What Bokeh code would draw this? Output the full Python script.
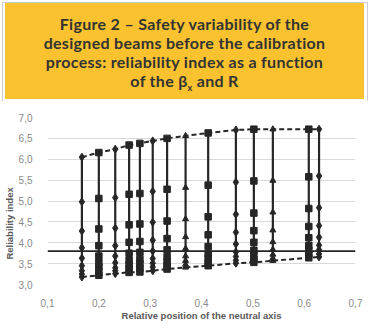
from bokeh.plotting import figure
from bokeh.models import ColumnDataSource, FixedTicker, Span, Div
from bokeh.layouts import column
from bokeh.embed import file_html
from bokeh.resources import INLINE

# Relative position of the neutral axis (beta_x) for each designed beam group
beta_x = [0.167, 0.200, 0.232, 0.259, 0.280, 0.305, 0.333, 0.369, 0.413, 0.467, 0.502, 0.539, 0.609, 0.629]

# Reliability index for each load ratio R (one array per R level, top to bottom)
beta_R1 = [6.05, 6.16, 6.24, 6.34, 6.38, 6.44, 6.50, 6.56, 6.63, 6.70, 6.72, 6.72, 6.72, 6.72]
beta_R2 = [4.98, 5.06, 5.08, 5.16, 5.18, 5.23, 5.28, 5.32, 5.38, 5.45, 5.48, 5.49, 5.58, 5.60]
beta_R3 = [4.28, 4.33, 4.35, 4.43, 4.45, 4.49, 4.52, 4.57, 4.62, 4.68, 4.71, 4.73, 4.82, 4.84]
beta_R4 = [3.88, 3.93, 3.93, 4.01, 4.03, 4.06, 4.10, 4.14, 4.19, 4.25, 4.29, 4.30, 4.39, 4.41]
beta_R5 = [3.63, 3.68, 3.68, 3.75, 3.77, 3.80, 3.83, 3.86, 3.91, 3.97, 4.01, 4.02, 4.12, 4.13]
beta_R6 = [3.45, 3.52, 3.52, 3.58, 3.60, 3.62, 3.66, 3.68, 3.73, 3.78, 3.82, 3.84, 3.93, 3.94]
beta_R7 = [3.33, 3.42, 3.40, 3.47, 3.49, 3.51, 3.54, 3.57, 3.62, 3.67, 3.70, 3.72, 3.82, 3.83]
beta_R8 = [3.25, 3.33, 3.33, 3.38, 3.39, 3.42, 3.45, 3.48, 3.52, 3.58, 3.60, 3.63, 3.72, 3.73]
beta_R9 = [3.18, 3.22, 3.26, 3.29, 3.30, 3.33, 3.37, 3.41, 3.45, 3.51, 3.53, 3.57, 3.64, 3.66]

# Marker shape used for each beam group
group_marker = ["diamond", "square", "diamond", "square", "square", "diamond", "square",
                "triangle", "square", "diamond", "square", "triangle", "square", "diamond"]

target_beta = 3.8
y_ticks = [3.0, 3.5, 4.0, 4.5, 5.0, 5.5, 6.0, 6.5, 7.0]
x_ticks = [0.1, 0.2, 0.3, 0.4, 0.5, 0.6, 0.7]

levels = [beta_R1, beta_R2, beta_R3, beta_R4, beta_R5, beta_R6, beta_R7, beta_R8, beta_R9]
size_of = {"square": 6.5, "diamond": 8, "triangle": 6}

xs, ys, mk, sz = [], [], [], []
for lev in levels:
    for i, b in enumerate(lev):
        xs.append(beta_x[i])
        ys.append(b)
        mk.append(group_marker[i])
        sz.append(size_of[group_marker[i]])
pts = ColumnDataSource(dict(x=xs, y=ys, marker=mk, size=sz))

ink = "#262626"

p = figure(frame_width=308, frame_height=167, x_range=(0.1, 0.7), y_range=(3.0, 7.0),
           output_backend="svg", toolbar_location=None,
           min_border_left=47, min_border_right=15, min_border_top=17, min_border_bottom=45,
           background_fill_color="white", border_fill_color="white")
p.outline_line_color = None
p.xgrid.grid_line_color = None
p.ygrid.grid_line_color = "#d9d9d9"
p.ygrid.grid_line_width = 1

for ax in (p.xaxis[0], p.yaxis[0]):
    ax.axis_line_color = None
    ax.major_tick_line_color = None
    ax.minor_tick_line_color = None
    ax.major_label_text_font = "Liberation Sans"
    ax.major_label_text_font_size = "10px"
    ax.major_label_text_color = "#8a8a8a"
    ax.axis_label_text_font = "Liberation Sans"
    ax.axis_label_text_font_size = "9.5px"
    ax.axis_label_text_font_style = "bold"
    ax.axis_label_text_color = "#595959"

p.xaxis.ticker = FixedTicker(ticks=x_ticks)
p.yaxis.ticker = FixedTicker(ticks=y_ticks)
p.xaxis.major_label_overrides = {t: f"{t:.1f}".replace(".", ",") for t in x_ticks}
p.yaxis.major_label_overrides = {t: f"{t:.1f}".replace(".", ",") for t in y_ticks}
p.xaxis.major_label_standoff = 8
p.yaxis.major_label_standoff = 9
p.xaxis.axis_label = "Relative position of the neutral axis"
# trailing no-break spaces push the rotated title down to the middle of the frame
p.yaxis.axis_label = "Reliability index" + "\u00a0" * 17
p.xaxis.axis_label_standoff = 0
p.yaxis.axis_label_standoff = 1

# Target reliability index
p.add_layout(Span(location=target_beta, dimension="width", line_color=ink, line_width=1.6))

# Range of each beam group
p.segment(x0=beta_x, y0=beta_R9, x1=beta_x, y1=beta_R1, line_color=ink, line_width=2.2)

# Upper and lower envelopes
p.line(beta_x, beta_R1, line_color=ink, line_width=2, line_dash="5 3")
p.line(beta_x, beta_R9, line_color=ink, line_width=2, line_dash="5 3")

p.scatter("x", "y", marker="marker", size="size", source=pts,
          fill_color=ink, line_color=ink)

title_html = (
    "<div style='width:359px;color:#333333;font-family:Lato;font-weight:bold;font-size:16px;"
    "letter-spacing:0.3px;line-height:19px;text-align:center;padding-top:11px'>"
    "Figure 2 – Safety variability of the<br>designed beams before the calibration<br>"
    "process: reliability index as a function<br>"
    "of the β<sub style='font-size:9px;line-height:0'>x</sub> and R</div>"
)
title = Div(text=title_html, width=359, height=96, margin=(3, 0, 0, 5),
            styles={"background-color": "#F9C22E", "box-sizing": "border-box"})

layout = column(title, p, spacing=1,
                styles={"background-color": "white", "outline": "1px solid #cccccc",
                        "outline-offset": "-3px"})

open("out.html", "w").write(file_html(layout, INLINE))
